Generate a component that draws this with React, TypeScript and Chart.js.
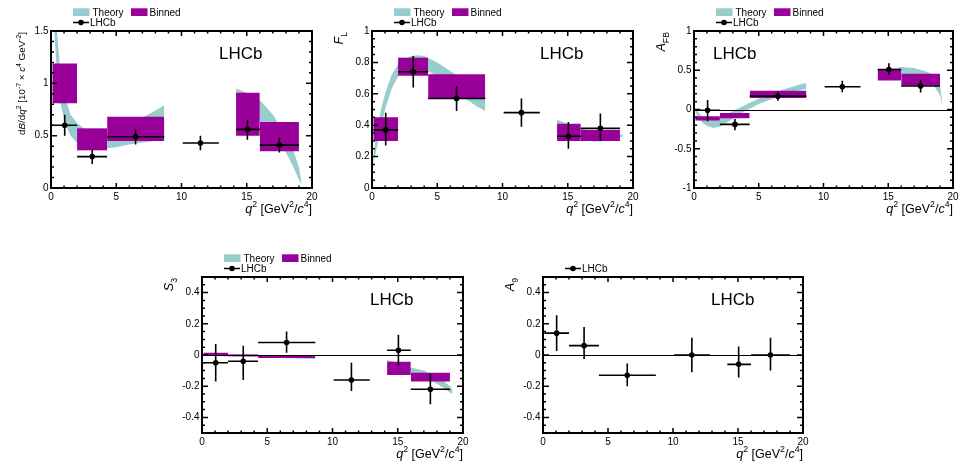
import React, { useEffect, useRef } from "react";
import { Chart, registerables } from "chart.js";

Chart.register(...registerables);

const FONT = "'Liberation Sans', Arial, Helvetica, sans-serif";
const THEORY_COLOR = "rgb(153, 204, 204)";
const BINNED_COLOR = "rgb(153, 0, 153)";

// Measured q² bins [GeV²/c⁴]
const binLow = [0.1, 2.0, 4.3, 10.09, 14.18, 16.0];
const binHigh = [2.0, 4.3, 8.68, 12.86, 16.0, 19.0];
const binMean = [1.05, 3.16, 6.48, 11.45, 15.05, 17.5];

// Bins that carry a binned SM prediction
const predLow = [0.1, 2.0, 4.3, 14.18, 16.0];
const predHigh = [2.0, 4.3, 8.68, 16.0, 19.0];

// q² grid of the SM theory band, below and above the charmonium region
const thLowQ2 = [0.1, 0.25, 0.45, 0.75, 1.0, 1.5, 2.0, 2.5, 3.0, 3.5, 4.0, 5.0, 6.0, 7.0, 8.0, 8.68];
const thHighQ2 = [14.18, 15.0, 16.0, 17.0, 18.0, 18.5, 19.0, 19.2];

const xTicks = [0, 5, 10, 15, 20];

// dB/dq² [1e-7 c^4 GeV^-2]
const dbVal = [0.60, 0.30, 0.49, 0.43, 0.56, 0.41];
const dbErrUp = [0.10, 0.065, 0.07, 0.07, 0.09, 0.07];
const dbErrDn = [0.10, 0.07, 0.075, 0.07, 0.10, 0.07];
const dbBinnedLo = [0.81, 0.36, 0.45, 0.50, 0.35];
const dbBinnedHi = [1.19, 0.57, 0.68, 0.91, 0.63];
const dbThLowUp = [3.5, 2.3, 1.5, 1.08, 0.9, 0.7, 0.62, 0.57, 0.54, 0.53, 0.53, 0.56, 0.61, 0.67, 0.74, 0.79];
const dbThLowDn = [2.5, 1.5, 1.1, 0.8, 0.65, 0.5, 0.43, 0.39, 0.375, 0.37, 0.375, 0.39, 0.415, 0.435, 0.45, 0.455];
const dbThHighUp = [0.95, 0.91, 0.84, 0.7, 0.5, 0.38, 0.2, 0.05];
const dbThHighDn = [0.86, 0.77, 0.64, 0.5, 0.34, 0.22, 0.08, 0.03];
const dbTicks = [0, 0.5, 1, 1.5];

// F_L
const flVal = [0.37, 0.74, 0.57, 0.48, 0.33, 0.38];
const flErrUp = [0.11, 0.10, 0.08, 0.09, 0.09, 0.095];
const flErrDn = [0.10, 0.10, 0.08, 0.09, 0.08, 0.08];
const flBinnedLo = [0.30, 0.715, 0.57, 0.30, 0.30];
const flBinnedHi = [0.45, 0.83, 0.725, 0.41, 0.37];
const flThLowUp = [0.2, 0.3, 0.4, 0.52, 0.6, 0.72, 0.79, 0.825, 0.84, 0.845, 0.84, 0.8, 0.745, 0.69, 0.64, 0.6];
const flThLowDn = [0.15, 0.21, 0.29, 0.41, 0.5, 0.63, 0.71, 0.75, 0.765, 0.77, 0.76, 0.71, 0.645, 0.58, 0.52, 0.49];
const flThHighUp = [0.435, 0.41, 0.38, 0.36, 0.345, 0.34, 0.34, 0.34];
const flThHighDn = [0.37, 0.34, 0.31, 0.295, 0.3, 0.31, 0.32, 0.33];
const flTicks = [0, 0.2, 0.4, 0.6, 0.8, 1];

// A_FB
const afbVal = [-0.01, -0.19, 0.17, 0.29, 0.51, 0.30];
const afbErrUp = [0.13, 0.07, 0.06, 0.075, 0.08, 0.08];
const afbErrDn = [0.14, 0.075, 0.06, 0.07, 0.07, 0.085];
const afbBinnedLo = [-0.14, -0.11, 0.145, 0.37, 0.305];
const afbBinnedHi = [-0.085, -0.045, 0.24, 0.515, 0.455];
const afbThLowUp = [0.02, -0.02, -0.06, -0.1, -0.115, -0.13, -0.11, -0.065, -0.02, 0.02, 0.06, 0.14, 0.2, 0.26, 0.31, 0.34];
const afbThLowDn = [-0.02, -0.08, -0.13, -0.18, -0.21, -0.235, -0.215, -0.17, -0.12, -0.065, -0.015, 0.07, 0.13, 0.19, 0.24, 0.265];
const afbThHighUp = [0.46, 0.51, 0.54, 0.53, 0.48, 0.44, 0.3, 0.05];
const afbThHighDn = [0.38, 0.43, 0.45, 0.43, 0.37, 0.31, 0.18, 0.03];
const afbTicks = [-1, -0.5, 0, 0.5, 1];

// S_3
const s3Val = [-0.05, -0.04, 0.08, -0.16, 0.03, -0.22];
const s3ErrUp = [0.12, 0.10, 0.07, 0.11, 0.10, 0.10];
const s3ErrDn = [0.12, 0.12, 0.065, 0.07, 0.095, 0.095];
const s3BinnedLo = [-0.006, -0.008, -0.019, -0.128, -0.17];
const s3BinnedHi = [0.015, 0.004, -0.002, -0.043, -0.113];
const s3ThLowUp = [0.003, 0.003, 0.002, 0.002, 0.001, 0, -0.001, -0.002, -0.003, -0.004, -0.005, -0.007, -0.009, -0.011, -0.013, -0.014];
const s3ThLowDn = [-0.003, -0.004, -0.005, -0.006, -0.007, -0.008, -0.009, -0.01, -0.011, -0.012, -0.013, -0.016, -0.019, -0.021, -0.024, -0.026];
const s3ThHighUp = [-0.032, -0.05, -0.08, -0.1, -0.14, -0.165, -0.2, -0.225];
const s3ThHighDn = [-0.045, -0.07, -0.115, -0.14, -0.185, -0.21, -0.24, -0.25];
const s3Ticks = [-0.4, -0.2, 0, 0.2, 0.4];

// A_9
const a9Val = [0.14, 0.06, -0.13, 0.0, -0.06, 0.0];
const a9ErrUp = [0.115, 0.12, 0.075, 0.11, 0.115, 0.11];
const a9ErrDn = [0.115, 0.085, 0.07, 0.11, 0.085, 0.10];
const a9Ticks = [-0.4, -0.2, 0, 0.2, 0.4];

type Part = [string, string];

const xTitle: Part[] = [["q", "i"], ["2", "^"], [" [GeV", ""], ["2", "^"], ["/", ""], ["c", "i"], ["4", "^"], ["]", ""]];

interface PanelDef {
  cx: number; cy: number; w: number; h: number;
  pl: number; pr: number; pt: number; pb: number;
  yMin: number; yMax: number; yMinor: number; yTicks: number[];
  vals: number[]; errUp: number[]; errDn: number[];
  binnedLo?: number[]; binnedHi?: number[];
  thLowUp?: number[]; thLowDn?: number[]; thHighUp?: number[]; thHighDn?: number[];
  title: Part[]; titleSize: number; titleOffset: number;
  zeroLine: boolean; lhcbLeft: boolean;
}

const panels: PanelDef[] = [
  {
    cx: 0, cy: 0, w: 330, h: 222, pl: 51, pr: 312, pt: 31, pb: 188,
    yMin: 0, yMax: 1.5, yMinor: 0.1, yTicks: dbTicks,
    vals: dbVal, errUp: dbErrUp, errDn: dbErrDn,
    binnedLo: dbBinnedLo, binnedHi: dbBinnedHi,
    thLowUp: dbThLowUp, thLowDn: dbThLowDn, thHighUp: dbThHighUp, thHighDn: dbThHighDn,
    title: [["d", ""], ["B", "i"], ["/d", ""], ["q", "i"], ["2", "^"], [" [10", ""], ["-7", "^"], [" \u00d7 ", ""], ["c", "i"], ["4", "^"], [" GeV", ""], ["-2", "^"], ["]", ""]],
    titleSize: 9.8, titleOffset: 26, zeroLine: false, lhcbLeft: false,
  },
  {
    cx: 330, cy: 0, w: 315, h: 222, pl: 372, pr: 633, pt: 31, pb: 188,
    yMin: 0, yMax: 1, yMinor: 0.05, yTicks: flTicks,
    vals: flVal, errUp: flErrUp, errDn: flErrDn,
    binnedLo: flBinnedLo, binnedHi: flBinnedHi,
    thLowUp: flThLowUp, thLowDn: flThLowDn, thHighUp: flThHighUp, thHighDn: flThHighDn,
    title: [["F", "i"], ["L", "_"]], titleSize: 12.5, titleOffset: 29, zeroLine: false, lhcbLeft: false,
  },
  {
    cx: 645, cy: 0, w: 316, h: 222, pl: 694, pr: 953, pt: 31, pb: 188,
    yMin: -1, yMax: 1, yMinor: 0.1, yTicks: afbTicks,
    vals: afbVal, errUp: afbErrUp, errDn: afbErrDn,
    binnedLo: afbBinnedLo, binnedHi: afbBinnedHi,
    thLowUp: afbThLowUp, thLowDn: afbThLowDn, thHighUp: afbThHighUp, thHighDn: afbThHighDn,
    title: [["A", "i"], ["FB", "_"]], titleSize: 12.5, titleOffset: 29, zeroLine: true, lhcbLeft: true,
  },
  {
    cx: 150, cy: 235, w: 320, h: 227, pl: 202, pr: 463, pt: 277, pb: 433,
    yMin: -0.5, yMax: 0.5, yMinor: 0.05, yTicks: s3Ticks,
    vals: s3Val, errUp: s3ErrUp, errDn: s3ErrDn,
    binnedLo: s3BinnedLo, binnedHi: s3BinnedHi,
    thLowUp: s3ThLowUp, thLowDn: s3ThLowDn, thHighUp: s3ThHighUp, thHighDn: s3ThHighDn,
    title: [["S", "i"], ["3", "_"]], titleSize: 12.5, titleOffset: 29, zeroLine: true, lhcbLeft: false,
  },
  {
    cx: 490, cy: 235, w: 320, h: 227, pl: 543, pr: 803, pt: 277, pb: 433,
    yMin: -0.5, yMax: 0.5, yMinor: 0.05, yTicks: a9Ticks,
    vals: a9Val, errUp: a9ErrUp, errDn: a9ErrDn,
    title: [["A", "i"], ["9", "_"]], titleSize: 12.5, titleOffset: 29, zeroLine: true, lhcbLeft: false,
  },
];

function fontFor(kind: string, size: number) {
  const s = kind === "^" || kind === "_" ? size * 0.7 : size;
  return `${kind === "i" ? "italic " : ""}${s}px ${FONT}`;
}

function richWidth(ctx: CanvasRenderingContext2D, parts: Part[], size: number) {
  let w = 0;
  for (const [t, k] of parts) {
    ctx.font = fontFor(k, size);
    w += ctx.measureText(t).width;
  }
  return w;
}

function drawRich(ctx: CanvasRenderingContext2D, parts: Part[], x: number, y: number, size: number) {
  let px = x;
  for (const [t, k] of parts) {
    ctx.font = fontFor(k, size);
    const dy = k === "^" ? -0.42 * size : k === "_" ? 0.28 * size : 0;
    ctx.fillText(t, px, y + dy);
    px += ctx.measureText(t).width;
  }
}

const fmt = (v: number) => String(Math.round(v * 100) / 100);

function bandDatasets(q2: number[], up: number[], dn: number[]) {
  const style = {
    borderColor: "transparent", borderWidth: 0, pointRadius: 0, pointHoverRadius: 0,
    backgroundColor: THEORY_COLOR, tension: 0,
  };
  return [
    { ...style, data: q2.map((x, i) => ({ x, y: up[i] })), fill: false },
    { ...style, data: q2.map((x, i) => ({ x, y: dn[i] })), fill: "-1" },
  ];
}

function binnedDatasets(lo: number[], hi: number[]) {
  const style = {
    borderColor: "transparent", borderWidth: 0, pointRadius: 0, pointHoverRadius: 0,
    backgroundColor: BINNED_COLOR, tension: 0,
  };
  const out: any[] = [];
  for (let i = 0; i < predLow.length; i++) {
    out.push({ ...style, data: [{ x: predLow[i], y: hi[i] }, { x: predHigh[i], y: hi[i] }], fill: false });
    out.push({ ...style, data: [{ x: predLow[i], y: lo[i] }, { x: predHigh[i], y: lo[i] }], fill: "-1" });
  }
  return out;
}

function makePlugin(p: PanelDef) {
  const hasTheory = !!p.thLowUp;
  return {
    id: "rootFrame",
    afterDatasetsDraw(chart: any) {
      const { ctx, chartArea: a, scales } = chart;
      const xs = scales.x, ys = scales.y;
      ctx.save();
      ctx.beginPath();
      ctx.rect(a.left, a.top, a.right - a.left, a.bottom - a.top);
      ctx.clip();
      if (p.zeroLine) {
        const y0 = Math.round(ys.getPixelForValue(0)) + 0.5;
        ctx.strokeStyle = "#000";
        ctx.lineWidth = 1;
        ctx.beginPath();
        ctx.moveTo(a.left, y0);
        ctx.lineTo(a.right, y0);
        ctx.stroke();
      }
      // error bars of the measurement
      ctx.strokeStyle = "#000";
      ctx.lineWidth = 1.6;
      for (let i = 0; i < p.vals.length; i++) {
        const yv = ys.getPixelForValue(p.vals[i]);
        const xm = xs.getPixelForValue(binMean[i]);
        ctx.beginPath();
        ctx.moveTo(xs.getPixelForValue(binLow[i]), yv);
        ctx.lineTo(xs.getPixelForValue(binHigh[i]), yv);
        ctx.moveTo(xm, ys.getPixelForValue(p.vals[i] + p.errUp[i]));
        ctx.lineTo(xm, ys.getPixelForValue(p.vals[i] - p.errDn[i]));
        ctx.stroke();
        ctx.beginPath();
        ctx.fillStyle = "#000";
        ctx.arc(xm, yv, 2.8, 0, Math.PI * 2);
        ctx.fill();
      }
      ctx.restore();
    },
    afterDraw(chart: any) {
      const { ctx, chartArea: a, scales } = chart;
      const xs = scales.x, ys = scales.y;
      ctx.save();
      // tick marks on all four sides
      ctx.strokeStyle = "#000";
      ctx.lineWidth = 1.5;
      ctx.beginPath();
      for (let v = 0; v <= 20 + 1e-9; v += 1) {
        const x = xs.getPixelForValue(v);
        const len = v % 5 === 0 ? 5 : 2.5;
        ctx.moveTo(x, a.bottom);
        ctx.lineTo(x, a.bottom - len);
        ctx.moveTo(x, a.top);
        ctx.lineTo(x, a.top + len);
      }
      const nMinor = Math.round((p.yMax - p.yMin) / p.yMinor);
      for (let k = 0; k <= nMinor; k++) {
        const v = p.yMin + k * p.yMinor;
        const y = ys.getPixelForValue(v);
        const major = p.yTicks.some((t) => Math.abs(t - v) < 1e-6);
        const len = major ? 6 : 3;
        ctx.moveTo(a.left, y);
        ctx.lineTo(a.left + len, y);
        ctx.moveTo(a.right, y);
        ctx.lineTo(a.right - len, y);
      }
      ctx.stroke();
      // frame
      ctx.lineWidth = 2;
      ctx.strokeRect(a.left, a.top, a.right - a.left, a.bottom - a.top);

      ctx.fillStyle = "#000";
      ctx.textBaseline = "alphabetic";
      ctx.textAlign = "left";

      // experiment label
      ctx.font = `17px ${FONT}`;
      ctx.fillText("LHCb", a.left + (p.lhcbLeft ? 19 : 168), a.top + 28);

      // x-axis title, right aligned to the frame
      const xw = richWidth(ctx, xTitle, 12.5);
      drawRich(ctx, xTitle, a.right - xw, a.bottom + 24.5, 12.5);

      // y-axis title, rotated, ending at the top of the frame
      const yw = richWidth(ctx, p.title, p.titleSize);
      ctx.save();
      ctx.translate(a.left - p.titleOffset, a.top + 1);
      ctx.rotate(-Math.PI / 2);
      drawRich(ctx, p.title, -yw, 0, p.titleSize);
      ctx.restore();

      // legend
      const lx = a.left + 22;
      ctx.font = `10px ${FONT}`;
      if (hasTheory) {
        ctx.fillStyle = THEORY_COLOR;
        ctx.fillRect(lx, a.top - 22.7, 16.5, 7.7);
        ctx.fillStyle = BINNED_COLOR;
        ctx.fillRect(lx + 58, a.top - 22.7, 16.5, 7.7);
        ctx.fillStyle = "#000";
        ctx.fillText("Theory", lx + 19.5, a.top - 15);
        ctx.fillText("Binned", lx + 76.5, a.top - 15);
      }
      const ly = a.top - 8.5;
      ctx.strokeStyle = "#000";
      ctx.lineWidth = 1.5;
      ctx.beginPath();
      ctx.moveTo(lx, ly);
      ctx.lineTo(lx + 16, ly);
      ctx.stroke();
      ctx.beginPath();
      ctx.arc(lx + 8, ly, 2.8, 0, Math.PI * 2);
      ctx.fill();
      ctx.fillText("LHCb", lx + 17, ly + 3.6);
      ctx.restore();
    },
  };
}

function Panel({ p }: { p: PanelDef }) {
  const ref = useRef<HTMLCanvasElement>(null);
  useEffect(() => {
    if (!ref.current) return;
    const pointsDs = {
      data: binMean.map((x, i) => ({ x, y: p.vals[i] })),
      showLine: false, pointRadius: 0, pointHoverRadius: 0,
      borderColor: "#000", backgroundColor: "#000", fill: false,
    };
    const datasets: any[] = [pointsDs];
    if (p.binnedLo && p.binnedHi) datasets.push(...binnedDatasets(p.binnedLo, p.binnedHi));
    if (p.thLowUp && p.thLowDn) datasets.push(...bandDatasets(thLowQ2, p.thLowUp, p.thLowDn));
    if (p.thHighUp && p.thHighDn) datasets.push(...bandDatasets(thHighQ2, p.thHighUp, p.thHighDn));

    const zeroPad = (s: any) => {
      s.paddingLeft = 0; s.paddingRight = 0; s.paddingTop = 0; s.paddingBottom = 0;
    };
    const chart = new Chart(ref.current, {
      type: "line",
      data: { datasets },
      options: {
        animation: false,
        responsive: false,
        devicePixelRatio: 1,
        events: [],
        layout: { padding: { top: p.pt - p.cy, right: p.cx + p.w - p.pr, left: 0, bottom: 0 } },
        plugins: { legend: { display: false }, tooltip: { enabled: false } },
        scales: {
          x: {
            type: "linear", min: 0, max: 20,
            grid: { display: false, drawTicks: false }, border: { display: false },
            ticks: {
              color: "#000", font: { family: FONT, size: 10 }, padding: 3,
              maxRotation: 0, autoSkip: false, callback: (v: any) => fmt(Number(v)),
            },
            afterBuildTicks: (s: any) => { s.ticks = xTicks.map((v) => ({ value: v })); },
            afterFit: (s: any) => { s.height = p.cy + p.h - p.pb; zeroPad(s); },
          },
          y: {
            type: "linear", min: p.yMin, max: p.yMax,
            grid: { display: false, drawTicks: false }, border: { display: false },
            ticks: {
              color: "#000", font: { family: FONT, size: 10 }, padding: 2.5,
              autoSkip: false, callback: (v: any) => fmt(Number(v)),
            },
            afterBuildTicks: (s: any) => { s.ticks = p.yTicks.map((v) => ({ value: v })); },
            afterFit: (s: any) => { s.width = p.pl - p.cx; zeroPad(s); },
          },
        },
      } as any,
      plugins: [makePlugin(p)],
    });
    return () => chart.destroy();
  }, [p]);
  return (
    <canvas
      ref={ref}
      width={p.w}
      height={p.h}
      style={{ position: "absolute", left: p.cx, top: p.cy, width: p.w, height: p.h }}
    />
  );
}

export default function App() {
  return (
    <div style={{ position: "fixed", left: 0, top: 0, width: 961, height: 462, background: "#fff" }}>
      {panels.map((p, i) => (
        <Panel key={i} p={p} />
      ))}
    </div>
  );
}
